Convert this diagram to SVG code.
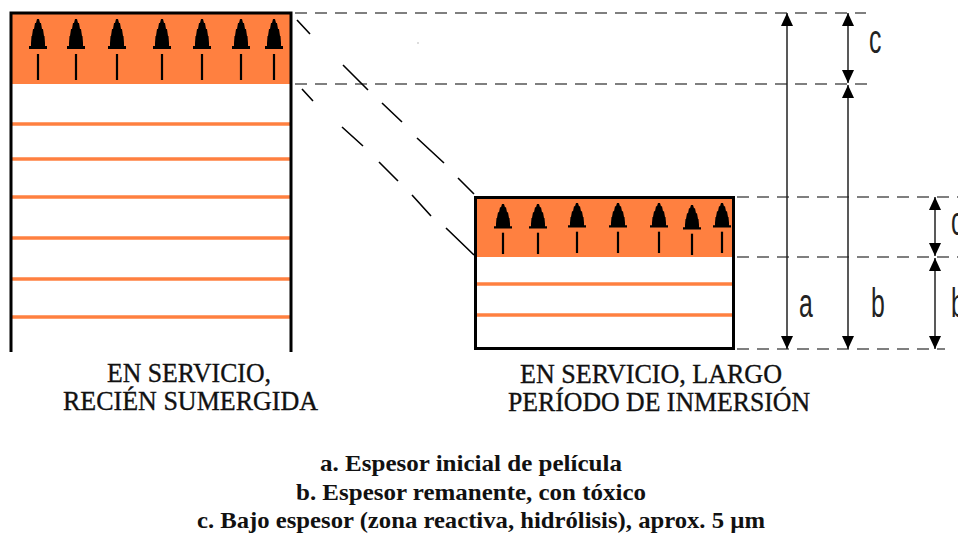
<svg xmlns="http://www.w3.org/2000/svg" width="958" height="536" viewBox="0 0 958 536">
<style>
.orange{fill:#FF8040}
.layer{stroke:#FF8040;stroke-width:3.5;fill:none}
.border{stroke:#000;stroke-width:3;fill:none}
.dash{stroke:#555;stroke-width:1.6;stroke-dasharray:12 8;fill:none}
.diag{stroke:#000;stroke-width:1.6;fill:none}
.dim{stroke:#222;stroke-width:1.5;fill:none;marker-start:url(#ah);marker-end:url(#ah)}
.cap{font-family:"Liberation Serif","Times New Roman",serif;font-size:27px;fill:#111;stroke:#111;stroke-width:0.35}
.leg{font-family:"Liberation Serif","Times New Roman",serif;font-size:23px;font-weight:bold;fill:#111}
.lbl{font-family:"Liberation Sans",Arial,sans-serif;font-size:40px;fill:#222}
</style>
<defs>
<marker id="ah" viewBox="0 0 13 12" refX="13" refY="6" markerWidth="13" markerHeight="12" markerUnits="userSpaceOnUse" orient="auto-start-reverse">
<path d="M0,0 L13,6 L0,12 Z" fill="#000"/>
</marker>
<g id="arr">
<path d="M-1,0 L1,0 L2,4 L3,4 L4,10 L5,10 L6,17 L6.5,17 L7,24 L7,27 L9,27 L9,30 L-9,30 L-9,27 L-7,27 L-7,24 L-6.5,17 L-6,17 L-5,10 L-4,10 L-3,4 L-2,4 Z" fill="#000"/>
<rect x="-1.1" y="35" width="2.2" height="26" fill="#000"/>
</g>
</defs>

<g id="node-left">
<rect class="orange" x="11" y="13" width="280" height="71"/>
<line class="layer" x1="11" y1="124" x2="291" y2="124"/>
<line class="layer" x1="11" y1="159" x2="291" y2="159"/>
<line class="layer" x1="11" y1="197" x2="291" y2="197"/>
<line class="layer" x1="11" y1="238" x2="291" y2="238"/>
<line class="layer" x1="11" y1="279" x2="291" y2="279"/>
<line class="layer" x1="11" y1="317" x2="291" y2="317"/>
<path class="border" d="M11,352 L11,13 L291,13 L291,352"/>
<use href="#arr" transform="translate(38,19)"/>
<use href="#arr" transform="translate(76,19)"/>
<use href="#arr" transform="translate(117,19)"/>
<use href="#arr" transform="translate(162,19)"/>
<use href="#arr" transform="translate(202,19)"/>
<use href="#arr" transform="translate(241,19)"/>
<use href="#arr" transform="translate(274,19)"/>
<text class="cap" x="189" y="382" text-anchor="middle" textLength="164" lengthAdjust="spacingAndGlyphs">EN SERVICIO,</text>
<text class="cap" x="190.5" y="410" text-anchor="middle" textLength="255" lengthAdjust="spacingAndGlyphs">RECIÉN SUMERGIDA</text>
</g>

<g id="node-right">
<rect class="orange" x="476" y="197" width="257" height="60"/>
<line class="layer" x1="476" y1="284" x2="733" y2="284"/>
<line class="layer" x1="476" y1="315" x2="733" y2="315"/>
<rect class="border" x="475.5" y="197.5" width="258" height="151"/>
<use href="#arr" transform="translate(503,204) scale(1,0.82)"/>
<use href="#arr" transform="translate(538,204) scale(1,0.82)"/>
<use href="#arr" transform="translate(577,203) scale(1,0.82)"/>
<use href="#arr" transform="translate(618,203) scale(1,0.82)"/>
<use href="#arr" transform="translate(659,203) scale(1,0.82)"/>
<use href="#arr" transform="translate(692,205) scale(1,0.82)"/>
<use href="#arr" transform="translate(722,203) scale(1,0.82)"/>
<text class="cap" x="651" y="383" text-anchor="middle" textLength="262" lengthAdjust="spacingAndGlyphs">EN SERVICIO, LARGO</text>
<text class="cap" x="659" y="411" text-anchor="middle" textLength="302" lengthAdjust="spacingAndGlyphs">PERÍODO DE INMERSIÓN</text>
</g>

<g id="connectors">
<line class="dash" x1="295" y1="13" x2="866" y2="13"/>
<line class="dash" x1="295" y1="84" x2="870" y2="84"/>
<line class="dash" x1="737" y1="197" x2="958" y2="197"/>
<line class="dash" x1="737" y1="257" x2="958" y2="257"/>
<line class="dash" x1="737" y1="349" x2="945" y2="349"/>
<path class="diag" d="M297,20 L310,34 M343,65 L368,90 M382,103 L402,122 M417,138 L444,163 M458,178 L474,194"/>
<path class="diag" d="M302,89 L313,101 M342,127 L363,146 M379,162 L398,181 M412,195 L431,216 M446,228 L474,255"/>
<rect x="417.5" y="42.5" width="1" height="1" fill="#777"/>
<line class="dim" x1="787" y1="13" x2="787" y2="349"/>
<line class="dim" x1="848" y1="13" x2="848" y2="83"/>
<line class="dim" x1="848" y1="85" x2="848" y2="349"/>
<line class="dim" x1="935" y1="197" x2="935" y2="256"/>
<line class="dim" x1="935" y1="258" x2="935" y2="349"/>
<text class="lbl" transform="translate(869,53) scale(0.62,1)">c</text>
<text class="lbl" transform="translate(799,317) scale(0.62,1)">a</text>
<text class="lbl" transform="translate(871,317) scale(0.62,1)">b</text>
<text class="lbl" transform="translate(951,235) scale(0.62,1)">c</text>
<text class="lbl" transform="translate(951,317) scale(0.62,1)">b</text>
</g>

<g id="legend">
<text class="leg" x="320" y="471" textLength="302" lengthAdjust="spacingAndGlyphs">a. Espesor inicial de película</text>
<text class="leg" x="296" y="500" textLength="350" lengthAdjust="spacingAndGlyphs">b. Espesor remanente, con tóxico</text>
<text class="leg" x="197" y="528" textLength="568" lengthAdjust="spacingAndGlyphs">c. Bajo espesor (zona reactiva, hidrólisis), aprox. 5 µm</text>
</g>
</svg>
